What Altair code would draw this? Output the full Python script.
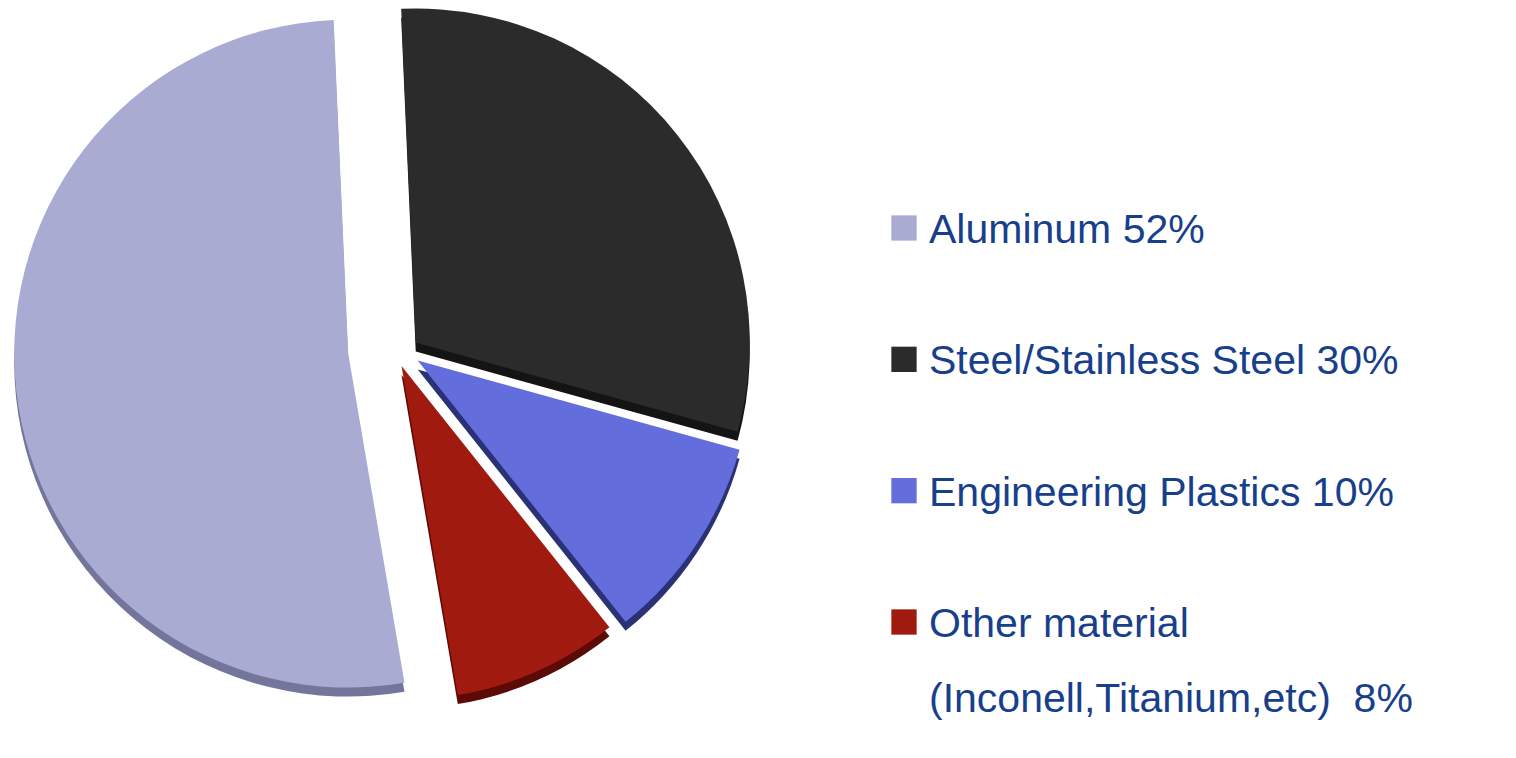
import altair as alt
import pandas as pd

# ---- data (pie order, clockwise from 12 o'clock) ----
materials = ["Steel/Stainless Steel", "Engineering Plastics", "Other material", "Aluminum"]
shares = [30, 10, 8, 52]
slice_order = [1, 2, 3, 4]

# ---- legend (top to bottom) ----
legend_materials = ["Aluminum", "Steel/Stainless Steel", "Engineering Plastics", "Other material"]
legend_labels = [
    "Aluminum 52%",
    "Steel/Stainless Steel 30%",
    "Engineering Plastics 10%",
    "Other material\n(Inconell,Titanium,etc) \u00a08%",
]

# ---- styles ----
top_colors = ["#a9abd3", "#2b2b2b", "#636ddc", "#a01a10"]      # legend order
edge_colors = ["#73769a", "#141414", "#2a3275", "#5c0a06"]
TEXT_COLOR = "#173f8c"

CX, CY = 378, 344          # pie centre in panel pixels
R = 334                    # radius
EXPLODE = 38               # explosion distance
TILT = 0.4                 # vertical compression of the explosion
ROT = -0.0436              # start rotation (rad)
DEPTH = 9                  # 3-D rim depth

pie_df = pd.DataFrame({"material": materials, "share": shares, "ord": slice_order})
leg_df = pd.DataFrame({"material": legend_materials, "label": legend_labels})

base = (
    alt.Chart(pie_df)
    .transform_window(cum="sum(share)", sort=[alt.SortField("ord")], frame=[None, 0])
    .transform_calculate(
        t1=f"datum.cum/100*2*PI + ({ROT})",
        t0=f"(datum.cum-datum.share)/100*2*PI + ({ROT})",
    )
    .transform_calculate(mid="(datum.t0+datum.t1)/2")
    .transform_calculate(
        cx=f"{CX} + {EXPLODE}*sin(datum.mid)",
        cy=f"{CY} - {EXPLODE}*{TILT}*cos(datum.mid)",
    )
    .transform_calculate(cy2=f"datum.cy + {DEPTH}")
)

rim = base.mark_arc(radius=R).encode(
    theta=alt.Theta("t0:Q", scale=None),
    theta2=alt.Theta2("t1:Q"),
    x=alt.X("cx:Q", scale=None),
    y=alt.Y("cy2:Q", scale=None),
    color=alt.Color("material:N", scale=alt.Scale(domain=legend_materials, range=edge_colors), legend=None),
)

top = base.mark_arc(radius=R).encode(
    theta=alt.Theta("t0:Q", scale=None),
    theta2=alt.Theta2("t1:Q"),
    x=alt.X("cx:Q", scale=None),
    y=alt.Y("cy:Q", scale=None),
    color=alt.Color("material:N", scale=alt.Scale(domain=legend_materials, range=top_colors), legend=None),
)

pie = alt.layer(rim, top).resolve_scale(color="independent").properties(width=860, height=742)

ysc = alt.Scale(type="point", domain=legend_materials, range=[220, 614], padding=0)

squares = alt.Chart(leg_df).mark_square(size=640, opacity=1).encode(
    x=alt.value(36),
    y=alt.Y("material:N", scale=ysc, axis=None),
    color=alt.Color("material:N", scale=alt.Scale(domain=legend_materials, range=top_colors), legend=None),
)

texts = alt.Chart(leg_df).mark_text(
    align="left", baseline="alphabetic", dy=15, fontSize=41,
    font="Liberation Sans", color=TEXT_COLOR, lineBreak="\n", lineHeight=75,
).encode(
    x=alt.value(61),
    y=alt.Y("material:N", scale=ysc, axis=None),
    text="label:N",
)

legend = alt.layer(squares, texts).properties(width=640, height=742)

chart = (
    alt.hconcat(pie, legend, spacing=0)
    .resolve_scale(color="independent")
    .properties(padding=0)
    .configure_view(stroke=None)
)

chart.save("out.html", embed_options={"renderer": "svg", "actions": False})
